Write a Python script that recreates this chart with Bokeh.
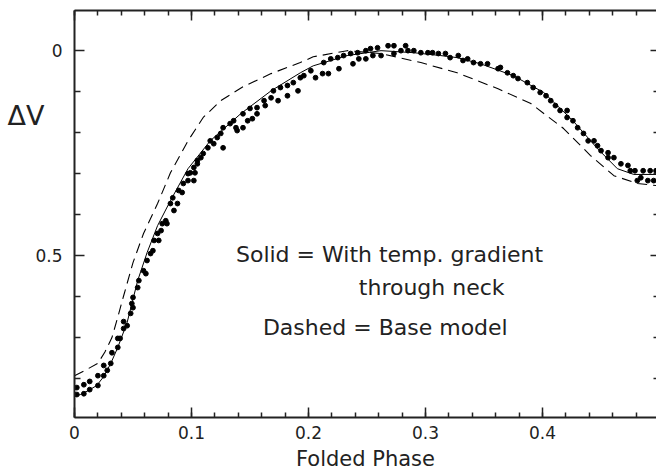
from bokeh.plotting import figure
from bokeh.models import Range1d, FixedTicker, LinearAxis, Label
from bokeh.embed import file_html
from bokeh.resources import INLINE

# Model curves (phase, delta V)
solid_phase = [0.000, 0.005, 0.012, 0.019, 0.025, 0.031, 0.037, 0.045, 0.054, 0.062, 0.071,
               0.082, 0.097, 0.116, 0.142, 0.168, 0.193, 0.204, 0.233, 0.262, 0.290, 0.313,
               0.327, 0.347, 0.375, 0.401, 0.426, 0.447, 0.464, 0.478, 0.497]
solid_dv = [0.844, 0.839, 0.829, 0.817, 0.795, 0.763, 0.724, 0.663, 0.561, 0.493, 0.427,
            0.366, 0.288, 0.220, 0.154, 0.098, 0.054, 0.037, 0.012, 0.000, 0.005, 0.012,
            0.017, 0.032, 0.061, 0.102, 0.171, 0.239, 0.288, 0.302, 0.302]

dashed_phase = [0.000, 0.009, 0.020, 0.026, 0.032, 0.037, 0.042, 0.050, 0.059, 0.071, 0.082,
                0.097, 0.110, 0.125, 0.144, 0.168, 0.193, 0.204, 0.233, 0.262, 0.296, 0.327,
                0.362, 0.390, 0.418, 0.441, 0.461, 0.481, 0.497]
dashed_dv = [0.793, 0.780, 0.763, 0.735, 0.700, 0.650, 0.598, 0.517, 0.446, 0.373, 0.298,
             0.220, 0.163, 0.122, 0.088, 0.056, 0.029, 0.015, 0.000, 0.007, 0.029, 0.054,
             0.093, 0.129, 0.190, 0.256, 0.305, 0.324, 0.329]

# Observed points
obs_phase = [0.002, 0.002, 0.008, 0.008, 0.013, 0.013, 0.020, 0.020, 0.025, 0.025, 0.028,
             0.031, 0.032, 0.037, 0.037, 0.039, 0.042, 0.042, 0.045, 0.048, 0.049, 0.050,
             0.050, 0.054, 0.055, 0.059, 0.061, 0.062, 0.065, 0.067, 0.068, 0.071, 0.072,
             0.074, 0.075, 0.078, 0.079, 0.082, 0.084, 0.085, 0.088, 0.089, 0.092, 0.093,
             0.097, 0.097, 0.102, 0.103, 0.105, 0.099, 0.102, 0.105, 0.108, 0.110, 0.114,
             0.116, 0.119, 0.122, 0.125, 0.127, 0.127, 0.133, 0.136, 0.138, 0.139, 0.144,
             0.144, 0.148, 0.150, 0.152, 0.156, 0.156, 0.162, 0.163, 0.168, 0.170, 0.174,
             0.176, 0.182, 0.182, 0.187, 0.191, 0.193, 0.196, 0.202, 0.206, 0.212, 0.213,
             0.217, 0.219, 0.226, 0.225, 0.230, 0.236, 0.238, 0.242, 0.243, 0.249, 0.249,
             0.253, 0.255, 0.259, 0.262, 0.268, 0.273, 0.273, 0.279, 0.283, 0.285, 0.290,
             0.296, 0.302, 0.306, 0.311, 0.317, 0.321, 0.328, 0.332, 0.336, 0.341, 0.347,
             0.353, 0.362, 0.364, 0.370, 0.375, 0.379, 0.387, 0.392, 0.398, 0.403, 0.407,
             0.411, 0.415, 0.421, 0.421, 0.426, 0.430, 0.435, 0.439, 0.444, 0.447, 0.450,
             0.456, 0.456, 0.461, 0.467, 0.473, 0.475, 0.479, 0.481, 0.484, 0.486, 0.490,
             0.492, 0.495, 0.497]
obs_dv = [0.839, 0.822, 0.837, 0.815, 0.827, 0.807, 0.817, 0.793, 0.793, 0.768, 0.780,
          0.763, 0.737, 0.724, 0.702, 0.702, 0.678, 0.661, 0.671, 0.641, 0.617, 0.627,
          0.602, 0.578, 0.561, 0.537, 0.544, 0.512, 0.495, 0.488, 0.463, 0.446, 0.463,
          0.439, 0.422, 0.415, 0.422, 0.373, 0.359, 0.390, 0.373, 0.341, 0.346, 0.324,
          0.317, 0.300, 0.317, 0.298, 0.276, 0.298, 0.285, 0.268, 0.261, 0.251, 0.237,
          0.220, 0.227, 0.212, 0.202, 0.237, 0.188, 0.178, 0.171, 0.188, 0.195, 0.154,
          0.188, 0.171, 0.141, 0.166, 0.154, 0.139, 0.122, 0.134, 0.115, 0.098, 0.122,
          0.090, 0.085, 0.110, 0.078, 0.098, 0.066, 0.061, 0.049, 0.066, 0.056, 0.029,
          0.056, 0.020, 0.044, 0.017, 0.012, 0.007, 0.032, 0.005, 0.020, 0.020, 0.000,
          -0.005, 0.012, -0.007, 0.012, -0.012, -0.012, 0.007, 0.000, -0.012, 0.000, 0.000,
          0.005, 0.005, 0.005, 0.007, 0.007, 0.017, 0.012, 0.024, 0.020, 0.029, 0.032,
          0.032, 0.044, 0.041, 0.054, 0.061, 0.068, 0.078, 0.090, 0.102, 0.110, 0.122,
          0.134, 0.146, 0.146, 0.163, 0.171, 0.188, 0.202, 0.220, 0.220, 0.232, 0.244,
          0.249, 0.261, 0.261, 0.276, 0.280, 0.293, 0.293, 0.317, 0.310, 0.293, 0.317,
          0.293, 0.317, 0.293]

x_major = [0.0, 0.1, 0.2, 0.3, 0.4]
x_minor = [round(0.02 * i, 2) for i in range(0, 25)]
y_major = [0.0, 0.5]
y_minor = [0.1, 0.2, 0.3, 0.4, 0.6, 0.7, 0.8]
y_title = "ΔV"
y_title_at = 0.159

FONT = "DejaVu Sans"
INK = "#222222"

p = figure(width=656, height=475, output_backend="svg", toolbar_location=None,
           x_range=Range1d(0.0, 0.4974), y_range=Range1d(0.895, -0.098),
           min_border_left=74, min_border_right=0, min_border_top=10, min_border_bottom=58,
           x_axis_label="Folded Phase")
p.grid.visible = False
p.outline_line_color = None
p.background_fill_color = "white"
p.border_fill_color = "white"

def style_axis(ax, major, minor, labels=True, line=True, maj_len=10, min_len=5):
    ax.ticker = FixedTicker(ticks=major, minor_ticks=minor)
    ax.axis_line_color = INK if line else None
    ax.axis_line_width = 2
    ax.major_tick_line_color = INK
    ax.minor_tick_line_color = INK
    ax.major_tick_line_width = 1.5
    ax.minor_tick_line_width = 1.5
    ax.major_tick_in = maj_len
    ax.major_tick_out = 0
    ax.minor_tick_in = min_len
    ax.minor_tick_out = 0
    if labels:
        ax.major_label_text_font = FONT
        ax.major_label_text_font_size = "17px"
        ax.major_label_text_color = INK
    else:
        ax.major_label_overrides = {t: "" for t in major}
        ax.major_label_text_font_size = "1px"
        ax.major_label_standoff = 0

xa = p.xaxis[0]
style_axis(xa, x_major, x_minor)
xa.major_label_standoff = 8
xa.axis_label_text_font = FONT
xa.axis_label_text_font_size = "21px"
xa.axis_label_text_font_style = "normal"
xa.axis_label_text_color = INK
xa.axis_label_standoff = 5

ya = p.yaxis[0]
style_axis(ya, y_major, y_minor, maj_len=10, min_len=6)
ya.major_label_standoff = 12

# outer left axis carrying only the horizontal "ΔV" title
title_axis = LinearAxis(ticker=FixedTicker(ticks=[y_title_at], minor_ticks=[]),
                        major_label_overrides={y_title_at: y_title})
title_axis.axis_line_color = None
title_axis.major_tick_line_color = None
title_axis.minor_tick_line_color = None
title_axis.major_tick_in = 0
title_axis.major_tick_out = 0
title_axis.minor_tick_in = 0
title_axis.minor_tick_out = 0
title_axis.major_label_text_font = FONT
title_axis.major_label_text_font_size = "27px"
title_axis.major_label_text_color = INK
title_axis.major_label_standoff = -12
p.add_layout(title_axis, "left")

top = LinearAxis()
style_axis(top, x_major, x_minor, labels=False)
p.add_layout(top, "above")

right = LinearAxis()
style_axis(right, y_major, y_minor, labels=False, line=False, maj_len=6, min_len=3)
p.add_layout(right, "right")

p.line(dashed_phase, dashed_dv, line_color="black", line_width=1.1, line_dash="10 6")
p.line(solid_phase, solid_dv, line_color="black", line_width=1)
p.scatter(obs_phase, obs_dv, size=4.8, fill_color="black", line_color="black")

def add_text(x, y, txt, size="22px"):
    p.add_layout(Label(x=x, y=y, text=txt, text_font=FONT, text_font_size=size,
                       text_color=INK, text_align="left", text_baseline="alphabetic"))

add_text(0.138, 0.497, "Solid = With temp. gradient")
add_text(0.243, 0.577, "through neck")
add_text(0.161, 0.675, "Dashed = Base model")

open("out.html", "w").write(file_html(p, INLINE))
